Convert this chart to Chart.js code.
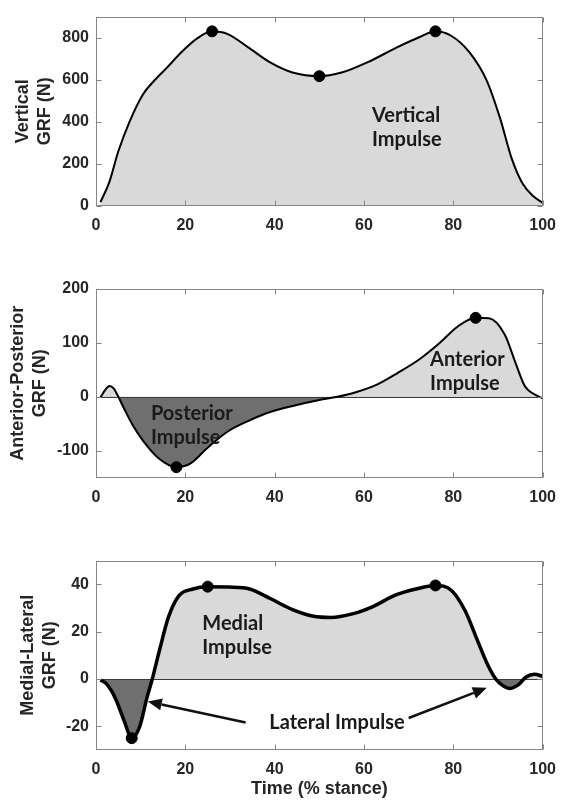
<!DOCTYPE html>
<html><head><meta charset="utf-8">
<script src="https://cdn.jsdelivr.net/npm/chart.js@4.4.0/dist/chart.umd.min.js"></script>
<style>
html,body{margin:0;padding:0;background:#fff;}
#wrap{position:relative;width:566px;height:801px;overflow:hidden;background:#fff;}
canvas{position:absolute;left:0;}
</style></head><body>
<div id="wrap">
<canvas id="c1" style="top:0px;width:566px;height:240px"></canvas>
<canvas id="c2" style="top:272px;width:566px;height:240px"></canvas>
<canvas id="c3" style="top:544px;width:566px;height:257px"></canvas>
</div>
<script>
// ---------- data ----------
const xTicks = [0, 20, 40, 60, 80, 100];

const vertTime = [1, 3, 5, 7.5, 10.5, 13, 16, 19, 22.5, 26, 29.5, 34, 39, 44, 50, 55, 61, 67.5, 72.5, 76, 79.5, 83.5, 87.5, 90.5, 93, 95.5, 98, 100];
const vertGRF  = [18, 115, 260, 400, 530, 595, 660, 728, 794, 830, 817, 755, 682, 634, 617, 634, 685, 755, 803, 830, 809, 733, 595, 415, 230, 107, 45, 15];
const vertPeakTime = [26, 50, 76];
const vertPeakGRF  = [830, 617, 830];
const vertTicks = [0, 200, 400, 600, 800];

const apTime = [1, 2, 3, 4, 5, 6.3, 8.2, 10.6, 13.8, 18, 21, 25, 29.5, 34.5, 39, 44.5, 50, 54, 58, 63, 67.5, 72.5, 77, 81, 85, 88, 91.5, 94, 96, 98.5, 100];
const apGRF  = [-1, 12, 20, 15, 0, -22, -52, -82, -112, -130, -124, -94, -64, -43, -28, -16, -6, 0, 8, 23, 44, 70, 100, 130, 146, 145, 115, 61, 20, 3, -3];
const apPeakTime = [18, 85];
const apPeakGRF  = [-130, 146];
const apTicks = [-100, 0, 100, 200];

const mlTime = [1, 2.3, 4.3, 6.3, 8, 9.8, 11.4, 12.6, 14.2, 16.2, 18.5, 21.7, 25, 29.6, 34.4, 39, 44, 48.7, 52.6, 57.4, 62, 67, 71.6, 76, 79.6, 82.7, 85.1, 87.5, 89.5, 91, 92.7, 94.6, 96.2, 98.2, 100];
const mlGRF  = [-0.4, -2, -8, -17.7, -25, -20, -8, 0, 12, 26, 35, 38, 39, 38.8, 38, 34, 29.3, 26.5, 26, 27.5, 30.6, 35.4, 38, 39.5, 37.4, 28.6, 17.7, 6.8, 0, -2.7, -4, -2.4, 0.7, 2, 1.1];
const mlPeakTime = [8, 25, 76];
const mlPeakGRF  = [-25, 39, 39.5];
const mlTicks = [-20, 0, 20, 40];

// ---------- style ----------
const LIGHT = '#d9d9d9', DARK = '#6f6f6f', FRAME = '#858585', TXT = '#262626';
Chart.defaults.font.family = '"Liberation Sans", Arial, sans-serif';
Chart.defaults.font.weight = 'bold';
Chart.defaults.font.size = 16;
Chart.defaults.color = TXT;
Chart.defaults.animation = false;

const pts = (xs, ys) => xs.map((x, i) => ({x: x, y: ys[i]}));

const decor = {
  id: 'decor',
  beforeDatasetsDraw(chart, args, o) {
    if (!o.zeroLine) return;
    const {ctx, chartArea: a, scales: {y}} = chart;
    const py = Math.round(y.getPixelForValue(0)) + 0.5;
    ctx.save();
    ctx.strokeStyle = '#3a3a3a'; ctx.lineWidth = 1;
    ctx.beginPath(); ctx.moveTo(a.left, py); ctx.lineTo(a.right, py); ctx.stroke();
    ctx.restore();
  },
  afterDatasetsDraw(chart, args, o) {
    const {ctx, scales: {x, y}} = chart;
    ctx.save();
    (o.texts || []).forEach(t => {
      ctx.font = 'bold 20px Lato, "Open Sans", sans-serif';
      ctx.fillStyle = '#1a1a1a';
      ctx.textAlign = t.align || 'left';
      ctx.textBaseline = 'middle';
      ctx.fillText(t.text, x.getPixelForValue(t.x), y.getPixelForValue(t.y));
    });
    (o.arrows || []).forEach(ar => {
      const x0 = x.getPixelForValue(ar.from[0]), y0 = y.getPixelForValue(ar.from[1]);
      const x1 = x.getPixelForValue(ar.to[0]), y1 = y.getPixelForValue(ar.to[1]);
      const ang = Math.atan2(y1 - y0, x1 - x0);
      const hl = 14, hw = 6;
      const bx = x1 - hl * Math.cos(ang), by = y1 - hl * Math.sin(ang);
      ctx.strokeStyle = '#111'; ctx.fillStyle = '#111'; ctx.lineWidth = 2.5;
      ctx.beginPath(); ctx.moveTo(x0, y0); ctx.lineTo(bx, by); ctx.stroke();
      ctx.beginPath();
      ctx.moveTo(x1, y1);
      ctx.lineTo(bx + hw * Math.sin(ang), by - hw * Math.cos(ang));
      ctx.lineTo(bx - hw * Math.sin(ang), by + hw * Math.cos(ang));
      ctx.closePath(); ctx.fill();
    });
    ctx.restore();
  },
  afterDraw(chart) {
    const {ctx, chartArea: a, scales: {x, y}} = chart;
    const L = Math.round(a.left) + 0.5, R = Math.round(a.right) - 0.5;
    const T = Math.round(a.top) + 0.5, B = Math.round(a.bottom) - 0.5;
    ctx.save();
    ctx.strokeStyle = FRAME; ctx.lineWidth = 1;
    ctx.strokeRect(L, T, R - L, B - T);
    const tl = 5;
    ctx.beginPath();
    x.ticks.forEach(t => {
      const px = Math.round(x.getPixelForValue(t.value)) + 0.5;
      ctx.moveTo(px, B); ctx.lineTo(px, B - tl);
      ctx.moveTo(px, T); ctx.lineTo(px, T + tl);
    });
    y.ticks.forEach(t => {
      const py = Math.round(y.getPixelForValue(t.value)) + 0.5;
      ctx.moveTo(L, py); ctx.lineTo(L + tl, py);
      ctx.moveTo(R, py); ctx.lineTo(R - tl, py);
    });
    ctx.stroke();
    ctx.restore();
  }
};

function makeChart(id, o) {
  return new Chart(document.getElementById(id), {
    type: 'line',
    data: {
      datasets: [
        {
          type: 'scatter',
          data: pts(o.peakX, o.peakY),
          pointRadius: 5.5, pointBackgroundColor: '#000', pointBorderColor: '#000',
          showLine: false
        },
        {
          data: pts(o.xs, o.ys),
          borderColor: '#000', borderWidth: o.lw,
          pointRadius: 0,
          cubicInterpolationMode: 'monotone',
          fill: {target: {value: 0}, above: LIGHT, below: DARK}
        }
      ]
    },
    options: {
      responsive: false,
      maintainAspectRatio: false,
      layout: {padding: {top: 10, right: 14, left: 0, bottom: 0}},
      plugins: {
        legend: {display: false}, tooltip: {enabled: false},
        filler: {drawTime: 'beforeDatasetsDraw'},
        decor: {zeroLine: o.zero, texts: o.texts, arrows: o.arrows}
      },
      scales: {
        x: {
          type: 'linear', min: 0, max: 100,
          afterBuildTicks: s => { s.ticks = xTicks.map(v => ({value: v})); },
          afterFit: s => { s.height = o.xh; },
          grid: {display: false, drawTicks: false},
          border: {display: false},
          ticks: {padding: 10, maxRotation: 0, font: {size: 16, weight: 'bold'}},
          title: o.xtitle ? {display: true, text: o.xtitle, color: TXT,
                   font: {size: 18, weight: 'bold', lineHeight: 1.2}, padding: {top: 0, bottom: 1}} : {display: false}
        },
        y: {
          min: o.ymin, max: o.ymax,
          afterBuildTicks: s => { s.ticks = o.yticks.map(v => ({value: v})); },
          afterFit: s => { s.width = 96; },
          grid: {display: false, drawTicks: false},
          border: {display: false},
          ticks: {padding: 7, font: {size: 16, weight: 'bold'}},
          title: {display: true, text: o.ytitle, color: TXT,
                  font: {size: 18, weight: 'bold', lineHeight: 1.22},
                  padding: {top: o.ytp, bottom: 0}}
        }
      }
    },
    plugins: [decor]
  });
}

makeChart('c1', {
  xs: vertTime, ys: vertGRF, peakX: vertPeakTime, peakY: vertPeakGRF,
  ymin: 0, ymax: 900, yticks: vertTicks, lw: 2, zero: false, xh: 34, ytp: 12,
  ytitle: ['Vertical', 'GRF (N)'],
  texts: [{text: 'Vertical', x: 61.8, y: 432}, {text: 'Impulse', x: 61.8, y: 317}]
});
makeChart('c2', {
  xs: apTime, ys: apGRF, peakX: apPeakTime, peakY: apPeakGRF,
  ymin: -150, ymax: 200, yticks: apTicks, lw: 2, zero: true, xh: 34, ytp: 7,
  ytitle: ['Anterior-Posterior', 'GRF (N)'],
  texts: [{text: 'Anterior', x: 74.8, y: 69}, {text: 'Impulse', x: 74.8, y: 24},
          {text: 'Posterior', x: 12.3, y: -31.6}, {text: 'Impulse', x: 12.3, y: -76}]
});
makeChart('c3', {
  xs: mlTime, ys: mlGRF, peakX: mlPeakTime, peakY: mlPeakGRF,
  ymin: -30, ymax: 50, yticks: mlTicks, lw: 3.5, zero: true, xh: 51, ytp: 17,
  ytitle: ['Medial-Lateral', 'GRF (N)'], xtitle: 'Time (% stance)',
  texts: [{text: 'Medial', x: 23.8, y: 23.6}, {text: 'Impulse', x: 23.8, y: 13.4},
          {text: 'Lateral Impulse', x: 38.8, y: -18.5}],
  arrows: [{from: [33.5, -18.4], to: [11.6, -9.5]}, {from: [70, -16.5], to: [87.5, -3.7]}]
});
</script>
</body></html>
